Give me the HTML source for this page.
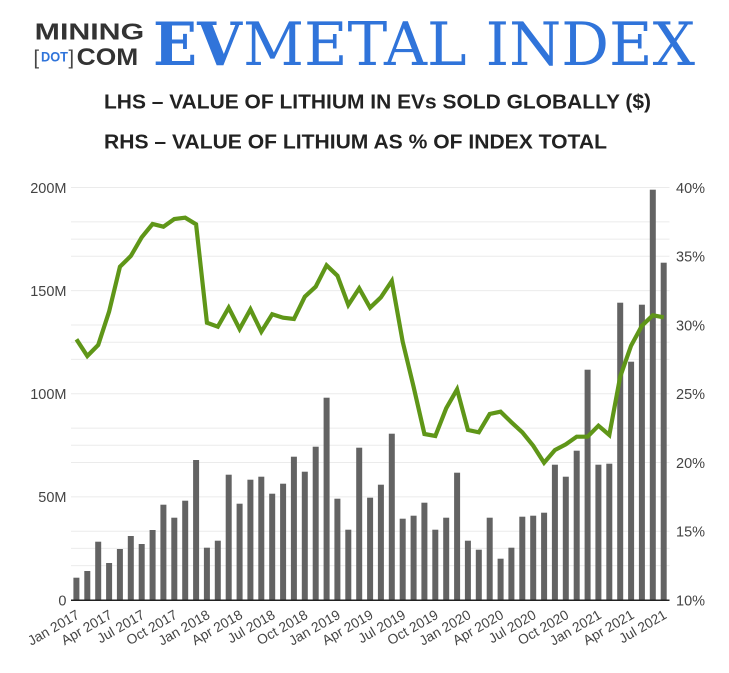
<!DOCTYPE html>
<html><head><meta charset="utf-8">
<style>
html,body{margin:0;padding:0;background:#fff;}
svg{display:block;}
text{font-family:"Liberation Sans",sans-serif;}
</style></head>
<body>
<svg width="729" height="673" viewBox="0 0 729 673" xmlns="http://www.w3.org/2000/svg">
<rect width="729" height="673" fill="#fff"/>
<!-- Logo -->
<text x="34.7" y="39.3" font-size="23" font-weight="bold" fill="#333" textLength="109.5" lengthAdjust="spacingAndGlyphs">MINING</text>
<text x="33.5" y="64.5" font-size="20" fill="#444" font-weight="normal">[</text>
<text x="41" y="61.5" font-size="13.5" font-weight="bold" fill="#3074da" textLength="27" lengthAdjust="spacingAndGlyphs">DOT</text>
<text x="68.5" y="64.5" font-size="20" fill="#444" font-weight="normal">]</text>
<text x="76.7" y="65" font-size="24.5" font-weight="bold" fill="#333" textLength="61.5" lengthAdjust="spacingAndGlyphs">COM</text>
<text x="153" y="65" font-family="DejaVu Serif, serif" style="font-family:'DejaVu Serif',serif" font-size="60" font-weight="bold" fill="#3074da" textLength="89" lengthAdjust="spacingAndGlyphs">EV</text>
<text x="243" y="65" style="font-family:'DejaVu Serif',serif" font-size="60" fill="#3074da" textLength="452" lengthAdjust="spacingAndGlyphs">METAL INDEX</text>
<!-- Subtitles -->
<text x="104" y="108.5" font-size="20" font-weight="bold" fill="#222" textLength="547" lengthAdjust="spacingAndGlyphs">LHS – VALUE OF LITHIUM IN EVs SOLD GLOBALLY ($)</text>
<text x="104" y="148.5" font-size="20" font-weight="bold" fill="#222" textLength="503" lengthAdjust="spacingAndGlyphs">RHS – VALUE OF LITHIUM AS % OF INDEX TOTAL</text>
<!-- Gridlines -->
<g stroke="#ebebeb" stroke-width="1">
<line x1="71" x2="669.5" y1="187.5" y2="187.5"/>
<line x1="71" x2="669.5" y1="221.9" y2="221.9"/>
<line x1="71" x2="669.5" y1="239.1" y2="239.1"/>
<line x1="71" x2="669.5" y1="256.25" y2="256.25"/>
<line x1="71" x2="669.5" y1="290.6" y2="290.6"/>
<line x1="71" x2="669.5" y1="325" y2="325"/>
<line x1="71" x2="669.5" y1="342.2" y2="342.2"/>
<line x1="71" x2="669.5" y1="359.4" y2="359.4"/>
<line x1="71" x2="669.5" y1="393.75" y2="393.75"/>
<line x1="71" x2="669.5" y1="428.1" y2="428.1"/>
<line x1="71" x2="669.5" y1="445.3" y2="445.3"/>
<line x1="71" x2="669.5" y1="462.5" y2="462.5"/>
<line x1="71" x2="669.5" y1="496.9" y2="496.9"/>
<line x1="71" x2="669.5" y1="531.25" y2="531.25"/>
<line x1="71" x2="669.5" y1="548.4" y2="548.4"/>
<line x1="71" x2="669.5" y1="565.6" y2="565.6"/>
</g>
<!-- Left axis labels -->
<g font-size="14.5" fill="#444" text-anchor="end">
<text x="66.5" y="192.8">200M</text>
<text x="66.5" y="296">150M</text>
<text x="66.5" y="399">100M</text>
<text x="66.5" y="502.2">50M</text>
<text x="66.5" y="605.3">0</text>
</g>
<!-- Right axis labels -->
<g font-size="14.5" fill="#444">
<text x="676" y="192.8">40%</text>
<text x="676" y="261.5">35%</text>
<text x="676" y="330.3">30%</text>
<text x="676" y="399">25%</text>
<text x="676" y="467.8">20%</text>
<text x="676" y="536.5">15%</text>
<text x="676" y="605.3">10%</text>
</g>
<!-- Bars -->
<g fill="#636363">
<rect x="73.4" y="577.7" width="6" height="22.3"/>
<rect x="84.3" y="571" width="6" height="29"/>
<rect x="95.2" y="541.7" width="6" height="58.3"/>
<rect x="106.1" y="563" width="6" height="37"/>
<rect x="116.9" y="549" width="6" height="51"/>
<rect x="127.8" y="536" width="6" height="64"/>
<rect x="138.7" y="544" width="6" height="56"/>
<rect x="149.6" y="530" width="6" height="70"/>
<rect x="160.4" y="504.7" width="6" height="95.3"/>
<rect x="171.3" y="517.7" width="6" height="82.3"/>
<rect x="182.2" y="500.7" width="6" height="99.3"/>
<rect x="193.1" y="460" width="6" height="140"/>
<rect x="203.9" y="547.7" width="6" height="52.3"/>
<rect x="214.8" y="540.7" width="6" height="59.3"/>
<rect x="225.7" y="474.7" width="6" height="125.3"/>
<rect x="236.6" y="503.7" width="6" height="96.3"/>
<rect x="247.4" y="479.7" width="6" height="120.3"/>
<rect x="258.3" y="476.7" width="6" height="123.3"/>
<rect x="269.2" y="493.7" width="6" height="106.3"/>
<rect x="280.1" y="483.7" width="6" height="116.3"/>
<rect x="290.9" y="456.7" width="6" height="143.3"/>
<rect x="301.8" y="471.7" width="6" height="128.3"/>
<rect x="312.7" y="446.7" width="6" height="153.3"/>
<rect x="323.6" y="397.7" width="6" height="202.3"/>
<rect x="334.4" y="498.7" width="6" height="101.3"/>
<rect x="345.3" y="529.7" width="6" height="70.3"/>
<rect x="356.2" y="447.7" width="6" height="152.3"/>
<rect x="367.1" y="497.7" width="6" height="102.3"/>
<rect x="377.9" y="484.7" width="6" height="115.3"/>
<rect x="388.8" y="433.7" width="6" height="166.3"/>
<rect x="399.7" y="518.7" width="6" height="81.3"/>
<rect x="410.6" y="515.7" width="6" height="84.3"/>
<rect x="421.4" y="502.7" width="6" height="97.3"/>
<rect x="432.3" y="529.7" width="6" height="70.3"/>
<rect x="443.2" y="517.7" width="6" height="82.3"/>
<rect x="454.1" y="472.7" width="6" height="127.3"/>
<rect x="464.9" y="540.7" width="6" height="59.3"/>
<rect x="475.8" y="549.7" width="6" height="50.3"/>
<rect x="486.7" y="517.7" width="6" height="82.3"/>
<rect x="497.6" y="558.7" width="6" height="41.3"/>
<rect x="508.4" y="547.7" width="6" height="52.3"/>
<rect x="519.3" y="516.7" width="6" height="83.3"/>
<rect x="530.2" y="515.7" width="6" height="84.3"/>
<rect x="541.1" y="512.7" width="6" height="87.3"/>
<rect x="551.9" y="464.7" width="6" height="135.3"/>
<rect x="562.8" y="476.7" width="6" height="123.3"/>
<rect x="573.7" y="450.7" width="6" height="149.3"/>
<rect x="584.6" y="369.7" width="6" height="230.3"/>
<rect x="595.4" y="464.7" width="6" height="135.3"/>
<rect x="606.3" y="463.7" width="6" height="136.3"/>
<rect x="617.2" y="302.7" width="6" height="297.3"/>
<rect x="628.1" y="361.7" width="6" height="238.3"/>
<rect x="638.9" y="304.7" width="6" height="295.3"/>
<rect x="649.8" y="189.7" width="6" height="410.3"/>
<rect x="660.7" y="262.7" width="6" height="337.3"/>
</g>
<!-- Axis line -->
<line x1="71" x2="669.5" y1="600.3" y2="600.3" stroke="#222" stroke-width="1.5"/>
<!-- Line series -->
<polyline fill="none" stroke="#5f9618" stroke-width="4.2" stroke-linejoin="miter" stroke-miterlimit="3" points="
76.44,339.3 87.32,356 98.19,345 109.07,311.7 119.94,266.7 130.82,256 141.69,237.3 152.57,224 163.44,226.7 174.32,219 185.19,217.7 196.07,224.3 206.94,322.7 217.82,326.7 228.69,307.7 239.57,329 250.44,309.3 261.32,331.7 272.19,314.3 283.07,317.7 293.94,319 304.82,296.7 315.69,286.7 326.57,265.3 337.44,275.7 348.32,305 359.19,288.3 370.07,307.7 380.94,297.3 391.82,281 402.69,341.7 413.57,386.7 424.44,434 435.32,436 446.19,408.3 457.07,389.3 467.94,430 478.82,432.3 489.69,414 500.57,411.7 511.44,422.3 522.32,432.3 533.19,445.7 544.07,462.7 554.94,450 565.82,444.3 576.69,436.7 587.57,436.7 598.44,425.7 609.32,435 620.19,376.7 631.07,345.7 641.94,325.7 652.82,315.3 663.69,317.3"/>
<!-- X tick labels -->
<g font-size="13.8" fill="#444" text-anchor="end">
<text transform="translate(80.4,617.5) rotate(-30)">Jan 2017</text>
<text transform="translate(113.1,617.5) rotate(-30)">Apr 2017</text>
<text transform="translate(145.7,617.5) rotate(-30)">Jul 2017</text>
<text transform="translate(178.3,617.5) rotate(-30)">Oct 2017</text>
<text transform="translate(210.9,617.5) rotate(-30)">Jan 2018</text>
<text transform="translate(243.6,617.5) rotate(-30)">Apr 2018</text>
<text transform="translate(276.2,617.5) rotate(-30)">Jul 2018</text>
<text transform="translate(308.8,617.5) rotate(-30)">Oct 2018</text>
<text transform="translate(341.4,617.5) rotate(-30)">Jan 2019</text>
<text transform="translate(374.1,617.5) rotate(-30)">Apr 2019</text>
<text transform="translate(406.7,617.5) rotate(-30)">Jul 2019</text>
<text transform="translate(439.3,617.5) rotate(-30)">Oct 2019</text>
<text transform="translate(471.9,617.5) rotate(-30)">Jan 2020</text>
<text transform="translate(504.6,617.5) rotate(-30)">Apr 2020</text>
<text transform="translate(537.2,617.5) rotate(-30)">Jul 2020</text>
<text transform="translate(569.8,617.5) rotate(-30)">Oct 2020</text>
<text transform="translate(602.4,617.5) rotate(-30)">Jan 2021</text>
<text transform="translate(635.1,617.5) rotate(-30)">Apr 2021</text>
<text transform="translate(667.7,617.5) rotate(-30)">Jul 2021</text>
</g>
</svg>
</body></html>
